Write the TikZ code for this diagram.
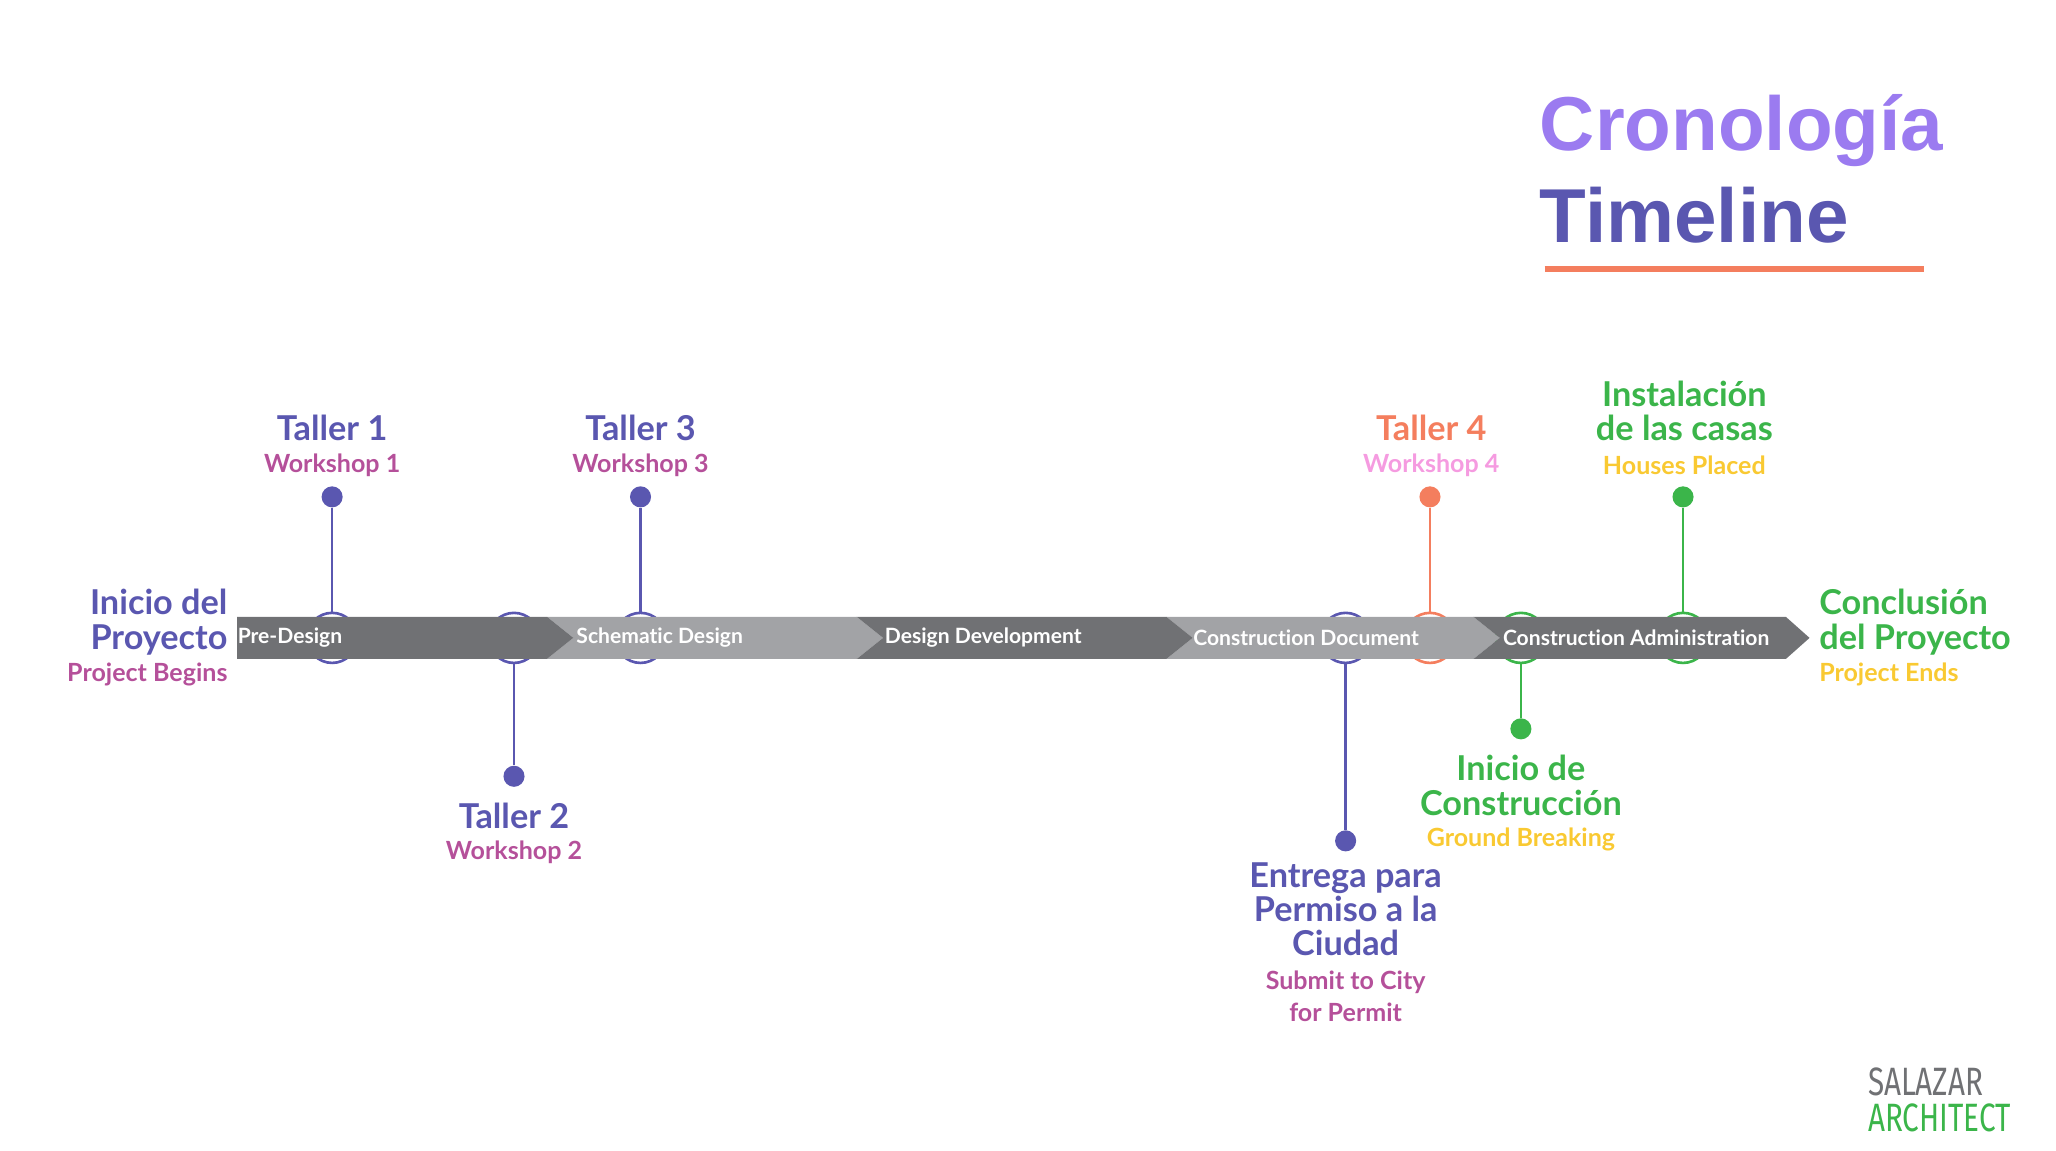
\documentclass[tikz,border=0pt]{standalone}
\usepackage{fontspec}
\setmainfont{Lato}[Ligatures=NoCommon]
\newfontfamily\titlefont{Liberation Sans}
\newfontfamily\logofont{Fira Sans}
\definecolor{tblue}{HTML}{5A57B0}
\definecolor{tmag}{HTML}{B5509A}
\definecolor{torange}{HTML}{F47E5E}
\definecolor{tpink}{HTML}{F59BE0}
\definecolor{tgreen}{HTML}{3BB54A}
\definecolor{tyellow}{HTML}{F9C932}
\definecolor{tpurple}{HTML}{9B7BF0}
\definecolor{dgray}{HTML}{707174}
\definecolor{lgray}{HTML}{A2A3A6}
\begin{document}
\begin{tikzpicture}[x=0.5pt,y=-0.5pt,
  head/.style={font=\fontsize{13}{13}\selectfont\bfseries,align=center,inner sep=0pt},
  sub/.style={font=\fontsize{9.5}{12}\selectfont\bfseries,align=center,inner sep=0pt},
  bar/.style={font=\fontsize{8}{9}\selectfont\bfseries,text=white,anchor=west,inner sep=0pt},
  ring/.style={line width=1pt,fill=white},
  stem/.style={line width=1pt},
  dot/.style={circle,inner sep=0pt,minimum size=8pt}]
\useasboundingbox (0,0) rectangle (1560,873);
% title
\node[anchor=west,text=tpurple,font=\titlefont\fontsize{29}{30}\selectfont\bfseries,inner sep=0pt] (t1) at (1168,99) {Cronología};
\node[anchor=west,text=tblue,font=\titlefont\fontsize{29}{30}\selectfont\bfseries,inner sep=0pt] (t2) at (1168,163) {Timeline};
\draw[torange,line width=2pt] (1172,204) -- (1460,204);
% rings and stems (behind bar)
\foreach \x/\c in {252/tblue,390/tblue,486/tblue,1021/tblue,1085/torange,1154/tgreen,1277/tgreen}
  \draw[ring,draw=\c] (\x,484) circle (19);
\node[dot,fill=tblue] (d1) at (252,377) {};
\node[dot,fill=tblue] (d2) at (390,589) {};
\node[dot,fill=tblue] (d3) at (486,377) {};
\node[dot,fill=tblue] (d4) at (1021,638) {};
\node[dot,fill=torange] (d5) at (1085,377) {};
\node[dot,fill=tgreen] (d6) at (1154,553) {};
\node[dot,fill=tgreen] (d7) at (1277,377) {};
\coordinate (c1) at (252,465); \coordinate (c2) at (390,503);
\coordinate (c3) at (486,465); \coordinate (c4) at (1021,503);
\coordinate (c5) at (1085,465); \coordinate (c6) at (1154,503);
\coordinate (c7) at (1277,465);
\draw[stem,tblue] (d1) -- (c1); \draw[stem,tblue] (d2) -- (c2);
\draw[stem,tblue] (d3) -- (c3); \draw[stem,tblue] (d4) -- (c4);
\draw[stem,torange] (d5) -- (c5); \draw[stem,tgreen] (d6) -- (c6);
\draw[stem,tgreen] (d7) -- (c7);
% bar
\fill[lgray] (415,468) -- (650,468) -- (670,484) -- (650,500) -- (415,500) -- (435,484) -- cycle;
\fill[lgray] (885,468) -- (1118,468) -- (1138,484) -- (1118,500) -- (885,500) -- (905,484) -- cycle;
\fill[dgray] (180,468) -- (415,468) -- (435,484) -- (415,500) -- (180,500) -- cycle;
\fill[dgray] (650,468) -- (885,468) -- (905,484) -- (885,500) -- (650,500) -- (670,484) -- cycle;
\fill[dgray] (1118,468) -- (1355,468) -- (1373,484) -- (1355,500) -- (1118,500) -- (1138,484) -- cycle;
\node[bar] (b1) at (180,484) {Pre-Design};
\node[bar] (b2) at (437,484) {Schematic Design};
\node[bar] (b3) at (671,484) {Design Development};
\node[bar] (b4) at (905,484) {Construction Document};
\node[bar] (b5) at (1140,484) {Construction Administration};
% labels
\node[head,text=tblue,anchor=east,align=right] (l0) at (173,472) {Inicio del\\Proyecto};
\node[sub,text=tmag,anchor=east] (s0) at (173,512) {Project Begins};
\node[head,text=tblue] (l1) at (252,325) {Taller 1};
\node[sub,text=tmag] (s1) at (252,353) {Workshop 1};
\node[head,text=tblue] (l3) at (486,325) {Taller 3};
\node[sub,text=tmag] (s3) at (486,353) {Workshop 3};
\node[head,text=tblue] (l2) at (390,619) {Taller 2};
\node[sub,text=tmag] (s2) at (390,647) {Workshop 2};
\node[head,text=torange] (l5) at (1086,325) {Taller 4};
\node[sub,text=tpink] (s5) at (1086,353) {Workshop 4};
\node[head,text=tgreen] (l7) at (1278,312) {Instalación\\de las casas};
\node[sub,text=tyellow] (s7) at (1278,353) {Houses Placed};
\node[head,text=tgreen] (l6) at (1154,596) {Inicio de\\Construcción};
\node[sub,text=tyellow] (s6) at (1154,637) {Ground Breaking};
\node[head,text=tblue] (l4) at (1021,690) {Entrega para\\Permiso a la\\Ciudad};
\node[sub,text=tmag] (s4) at (1021,756) {Submit to City\\for Permit};
\node[head,text=tgreen,anchor=west,align=left] (l8) at (1380,472) {Conclusión\\del Proyecto};
\node[sub,text=tyellow,anchor=west] (s8) at (1380,512) {Project Ends};
% logo
\node[anchor=west,inner sep=0pt,text=dgray,font=\logofont\fontsize{15}{15}\selectfont] (g1) at (1417,821) {\scalebox{0.75}[1]{SALAZAR}};
\node[anchor=west,inner sep=0pt,text=tgreen,font=\logofont\fontsize{15}{15}\selectfont] (g2) at (1417,848) {\scalebox{0.75}[1]{ARCHITECT}};
\end{tikzpicture}
\end{document}
